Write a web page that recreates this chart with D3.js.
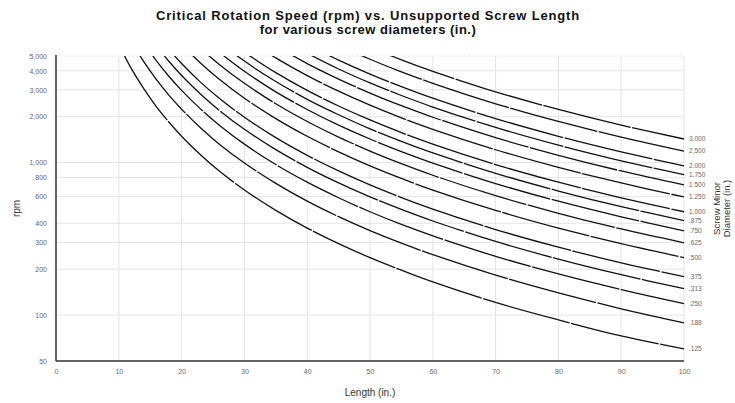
<!DOCTYPE html>
<html>
<head>
<meta charset="utf-8">
<script src="https://cdn.jsdelivr.net/npm/d3@7/dist/d3.min.js"></script>
<style>
  html, body { margin: 0; padding: 0; background: #fff; }
  svg { display: block; font-family: "Liberation Sans", Arial, sans-serif; }
</style>
</head>
<body>
<svg id="chart" width="735" height="403"></svg>
<script>
// Unsupported screw length (in.) at which each curve is sampled
const lengths = [10, 12, 14, 16, 18, 20, 23, 26, 30, 35, 40, 45, 50, 55, 60, 70, 80, 90, 100];

// Screw minor diameters (in.), as labelled at the right end of each curve
const diameterLabels = ["3.000", "2.500", "2.000", "1.750", "1.500", "1.250", "1.000", ".875",
                        ".750", ".625", ".500", ".375", ".313", ".250", ".188", ".125"];

// Critical speed (rpm) for each diameter at the lengths above (null = off the chart)
const _ = null;
const rpmValues = [
  [_, _, _, _, _, _, _, _, _, _, _, _, 5710, 4720, 3970, 2910, 2230, 1760, 1428],
  [_, _, _, _, _, _, _, _, _, _, _, 5880, 4760, 3930, 3310, 2430, 1860, 1470, 1190],
  [_, _, _, _, _, _, _, _, _, _, 5950, 4700, 3808, 3150, 2644, 1943, 1488, 1175, 952],
  [_, _, _, _, _, _, _, _, _, _, 5210, 4110, 3332, 2754, 2314, 1700, 1302, 1028, 833],
  [_, _, _, _, _, _, _, _, _, 5830, 4460, 3530, 2856, 2360, 1983, 1457, 1116, 881, 714],
  [_, _, _, _, _, _, _, _, 6610, 4860, 3720, 2940, 2380, 1967, 1653, 1214, 930, 735, 595],
  [_, _, _, _, _, _, _, _, 5290, 3890, 2975, 2350, 1904, 1574, 1322, 971, 744, 588, 476],
  [_, _, _, _, _, _, _, 6160, 4630, 3400, 2600, 2060, 1666, 1377, 1157, 850, 651, 514, 417],
  [_, _, _, _, _, _, _, 5280, 3970, 2910, 2230, 1760, 1428, 1180, 992, 729, 558, 441, 357],
  [_, _, _, _, _, _, 5620, 4400, 3310, 2430, 1860, 1470, 1190, 984, 826, 607, 465, 367, 298],
  [_, _, _, _, _, 5950, 4500, 3520, 2644, 1943, 1488, 1176, 952, 787, 661, 486, 372, 294, 238],
  [_, _, _, _, 5510, 4460, 3370, 2640, 1983, 1457, 1116, 882, 714, 590, 496, 364, 279, 220, 179],
  [_, _, _, 5820, 4600, 3725, 2820, 2200, 1655, 1216, 931, 736, 596, 493, 414, 304, 233, 184, 149],
  [_, _, 6070, 4650, 3670, 2975, 2250, 1760, 1322, 971, 744, 588, 476, 393, 331, 243, 186, 147, 119],
  [_, 6210, 4570, 3500, 2760, 2240, 1690, 1320, 994, 731, 559, 442, 358, 296, 249, 183, 140, 110, 89],
  [5950, 4130, 3040, 2320, 1840, 1490, 1125, 880, 661, 486, 372, 294, 238, 197, 165, 121, 93, 73, 60]
];

const xTicks = [0, 10, 20, 30, 40, 50, 60, 70, 80, 90, 100];
const yTicks = [50, 100, 200, 300, 400, 600, 800, 1000, 2000, 3000, 4000, 5000];

const svg = d3.select("#chart");
const plot = { left: 56, right: 684, top: 56, bottom: 361 };

const x = d3.scaleLinear().domain([0, 100]).range([plot.left, plot.right]);
const y = d3.scaleLog().domain([50, 5000]).range([plot.bottom, plot.top]);

// Titles
svg.append("text")
  .attr("x", 368).attr("y", 20)
  .attr("text-anchor", "middle")
  .attr("font-size", 13).attr("font-weight", "bold")
  .attr("letter-spacing", 0.85)
  .attr("fill", "#111")
  .text("Critical Rotation Speed (rpm) vs. Unsupported Screw Length");
svg.append("text")
  .attr("x", 368).attr("y", 34)
  .attr("text-anchor", "middle")
  .attr("font-size", 13).attr("font-weight", "bold")
  .attr("letter-spacing", 0.5)
  .attr("fill", "#111")
  .text("for various screw diameters (in.)");

// Gridlines
const grid = svg.append("g");
grid.selectAll("line.h").data(yTicks).join("line")
  .attr("x1", plot.left).attr("x2", plot.right)
  .attr("y1", d => y(d)).attr("y2", d => y(d))
  .attr("stroke", "#e4e4e4").attr("stroke-width", 1)
  .attr("stroke-dasharray", d => d === 5000 ? "2,2" : null);
grid.selectAll("line.v").data(xTicks.filter(d => d > 0)).join("line")
  .attr("x1", d => x(d)).attr("x2", d => x(d))
  .attr("y1", plot.top).attr("y2", plot.bottom)
  .attr("stroke", "#e4e4e4").attr("stroke-width", 1);

// Axes
const yAxis = d3.axisLeft(y).tickValues(yTicks).tickSize(0).tickPadding(9)
  .tickFormat(d3.format(","));
const yG = svg.append("g").attr("transform", `translate(${plot.left},0)`).call(yAxis);
yG.select(".domain").remove();
yG.selectAll("text").attr("font-size", 7).attr("fill", "#666")
  .attr("font-family", "'Liberation Sans Narrow', 'Liberation Sans', Arial, sans-serif");

const xAxis = d3.axisBottom(x).tickValues(xTicks).tickSize(0).tickPadding(8);
const xG = svg.append("g").attr("transform", `translate(0,${plot.bottom})`).call(xAxis);
xG.select(".domain").remove();
xG.selectAll("text").attr("font-size", 7).attr("fill", "#666")
  .attr("font-family", "'Liberation Sans Narrow', 'Liberation Sans', Arial, sans-serif");

svg.append("line")
  .attr("x1", plot.left).attr("x2", plot.left)
  .attr("y1", plot.top - 1).attr("y2", plot.bottom)
  .attr("stroke", "#333").attr("stroke-width", 1.5);
svg.append("line")
  .attr("x1", plot.left).attr("x2", plot.right)
  .attr("y1", plot.bottom).attr("y2", plot.bottom)
  .attr("stroke", "#333").attr("stroke-width", 1.5);

// Axis titles
svg.append("text")
  .attr("transform", `translate(20,${(plot.top + plot.bottom) / 2}) rotate(-90)`)
  .attr("text-anchor", "middle")
  .attr("font-size", 10).attr("fill", "#333")
  .text("rpm");
svg.append("text")
  .attr("x", (plot.left + plot.right) / 2).attr("y", 396)
  .attr("text-anchor", "middle")
  .attr("font-size", 10).attr("fill", "#333")
  .text("Length (in.)");
const rightTitle = svg.append("text")
  .attr("transform", `translate(720,${(plot.top + plot.bottom) / 2}) rotate(-90)`)
  .attr("text-anchor", "middle")
  .attr("font-size", 9.5).attr("fill", "#333");
rightTitle.append("tspan").attr("x", 0).attr("dy", 0).text("Screw Minor");
rightTitle.append("tspan").attr("x", 0).attr("dy", 10).text("Diameter (in.)");

// Curves
svg.append("defs").append("clipPath").attr("id", "plotClip")
  .append("rect")
  .attr("x", plot.left).attr("y", plot.top)
  .attr("width", plot.right - plot.left + 2).attr("height", plot.bottom - plot.top);

const line = d3.line()
  .defined(d => d[1] != null)
  .x(d => x(d[0]))
  .y(d => y(d[1]))
  .curve(d3.curveCatmullRom.alpha(0.5));

const series = rpmValues.map((vals, i) => ({
  label: diameterLabels[i],
  points: lengths.map((L, j) => [L, vals[j]])
}));

svg.append("g").attr("clip-path", "url(#plotClip)")
  .selectAll("path").data(series).join("path")
  .attr("d", d => line(d.points))
  .attr("fill", "none")
  .attr("stroke", "#111")
  .attr("stroke-width", 1.3)
  .attr("stroke-dasharray", "90,1.5");

// End labels
svg.append("g").selectAll("text").data(series).join("text")
  .attr("x", plot.right + 5)
  .attr("y", d => y(d.points[d.points.length - 1][1]))
  .attr("dy", "0.35em")
  .attr("font-size", 6.5).attr("fill", "#666")
  .attr("font-family", "'Liberation Sans Narrow', 'Liberation Sans', Arial, sans-serif")
  .text(d => d.label);
</script>
</body>
</html>
